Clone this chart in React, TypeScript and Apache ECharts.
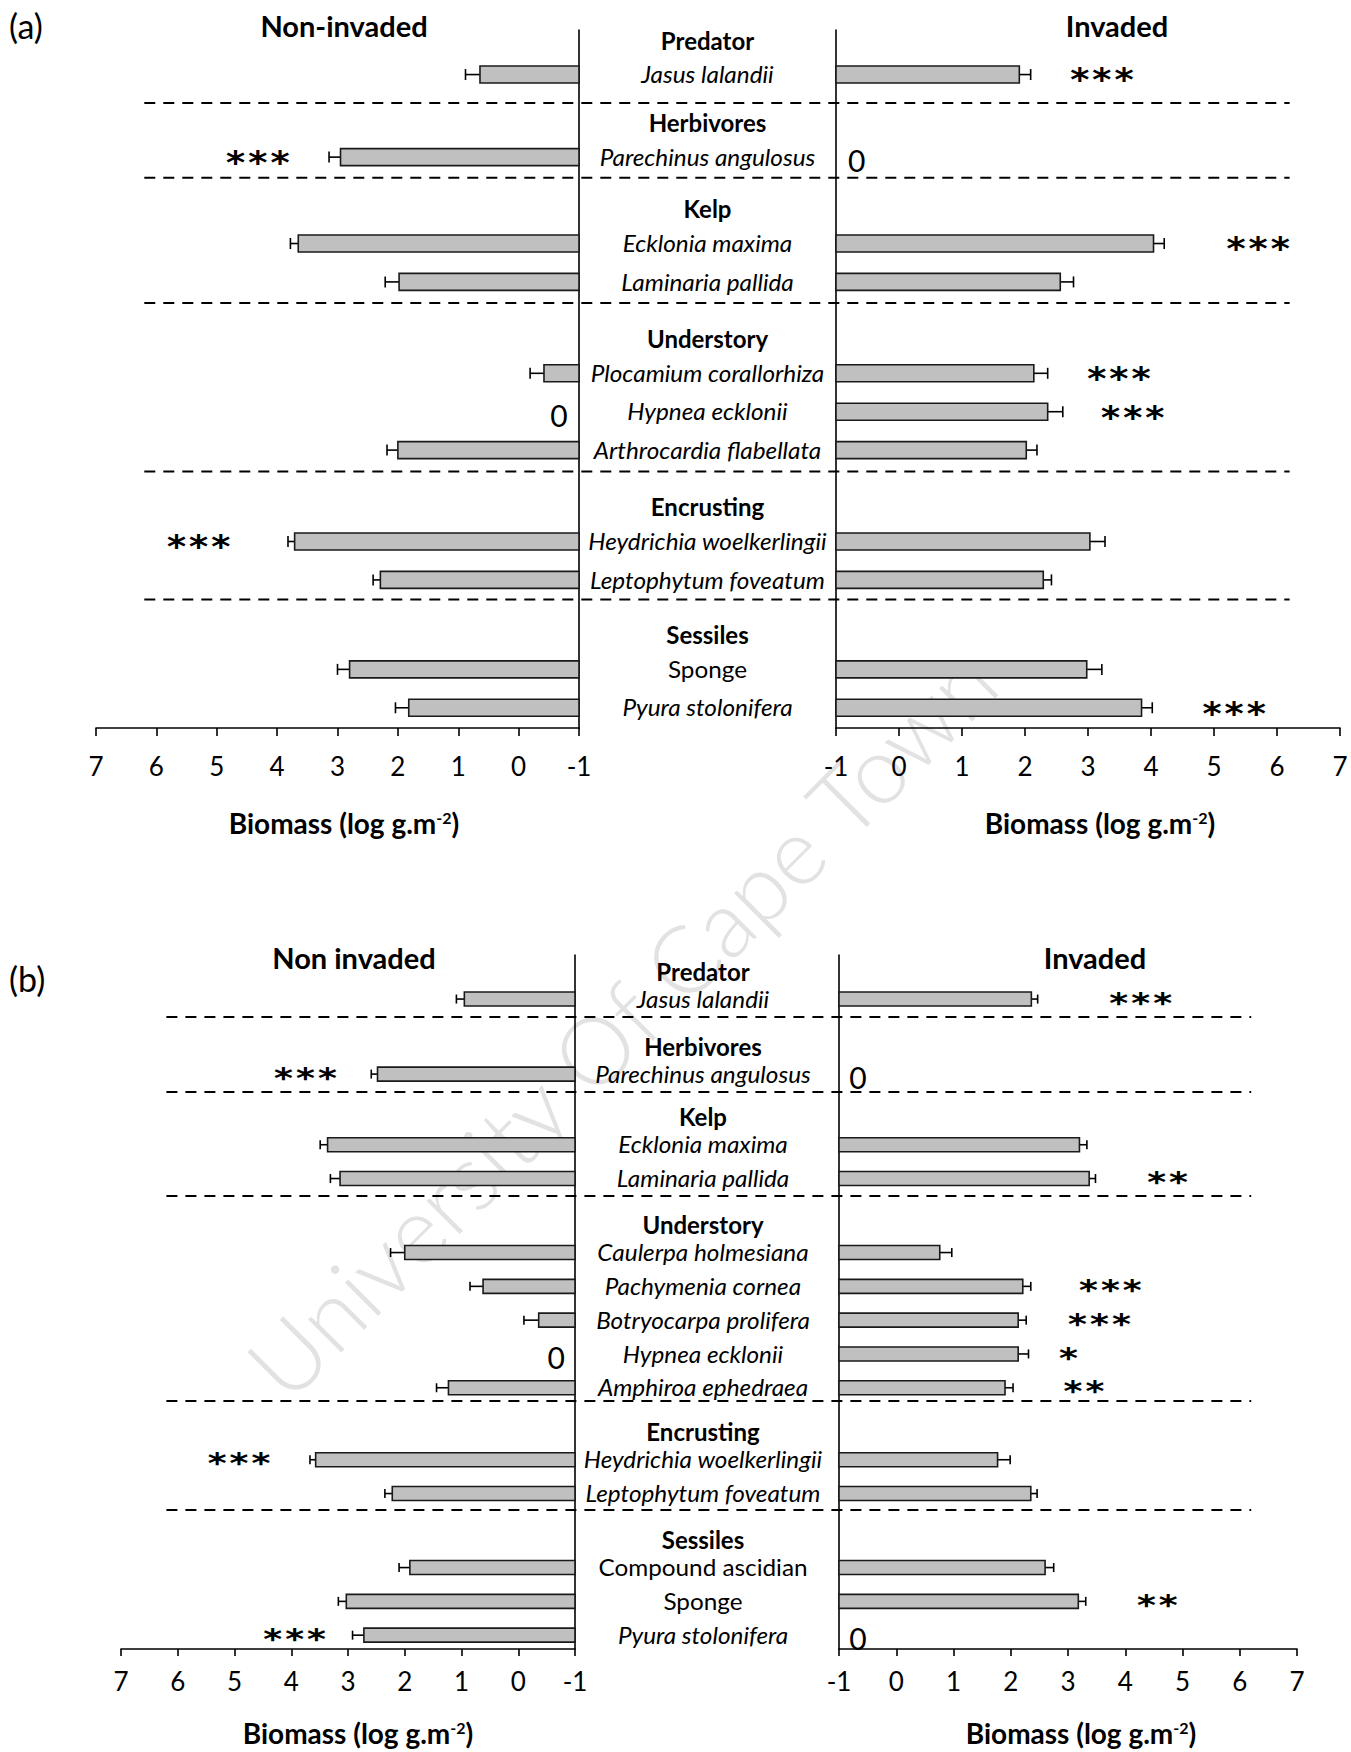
import React, { useEffect, useRef } from "react";
import * as echarts from "echarts";

const FONT = "Lato, 'Open Sans', 'DejaVu Sans', sans-serif";
const STAR_FONT = "'DejaVu Sans Mono', monospace";

// ---------------- Panel (a) data ----------------
const groupsA = ["Predator", "Herbivores", "Kelp", "Understory", "Encrusting", "Sessiles"];
const speciesA = [
  "Jasus lalandii", "Parechinus angulosus", "Ecklonia maxima", "Laminaria pallida",
  "Plocamium corallorhiza", "Hypnea ecklonii", "Arthrocardia flabellata",
  "Heydrichia woelkerlingii", "Leptophytum foveatum", "Sponge", "Pyura stolonifera",
];
const groupOfA = [0, 1, 2, 2, 3, 3, 3, 4, 4, 5, 5];
const italicA = [true, true, true, true, true, true, true, true, true, false, true];
const nonInvadedA = [0.64, 2.95, 3.65, 1.98, -0.42, null, 2.0, 3.71, 2.29, 2.8, 1.82];
const nonInvadedErrA = [0.24, 0.19, 0.13, 0.23, 0.23, null, 0.18, 0.11, 0.12, 0.2, 0.22];
const invadedA = [1.91, null, 4.04, 2.56, 2.14, 2.36, 2.02, 3.03, 2.29, 2.98, 3.85];
const invadedErrA = [0.18, null, 0.17, 0.21, 0.22, 0.24, 0.17, 0.24, 0.13, 0.24, 0.17];
const sigNonInvadedA = ["", "***", "", "", "", "", "", "***", "", "", ""];
const sigNonInvadedAtA = [null, 4.32, null, null, null, null, null, 5.3, null, null, null];
const sigInvadedA = ["***", "", "***", "", "***", "***", "", "", "", "", "***"];
const sigInvadedAtA = [3.22, null, 5.7, null, 3.49, 3.71, null, null, null, null, 5.32];
const headersA = ["Non-invaded", "Invaded"];

// ---------------- Panel (b) data ----------------
const groupsB = ["Predator", "Herbivores", "Kelp", "Understory", "Encrusting", "Sessiles"];
const speciesB = [
  "Jasus lalandii", "Parechinus angulosus", "Ecklonia maxima", "Laminaria pallida",
  "Caulerpa holmesiana", "Pachymenia cornea", "Botryocarpa prolifera", "Hypnea ecklonii",
  "Amphiroa ephedraea", "Heydrichia woelkerlingii", "Leptophytum foveatum",
  "Compound ascidian", "Sponge", "Pyura stolonifera",
];
const groupOfB = [0, 1, 2, 2, 3, 3, 3, 3, 3, 4, 4, 5, 5, 5];
const italicB = [true, true, true, true, true, true, true, true, true, true, true, false, false, true];
const nonInvadedB = [0.95, 2.48, 3.36, 3.14, 2.0, 0.62, -0.36, null, 1.23, 3.57, 2.22, 1.91, 3.03, 2.72];
const nonInvadedErrB = [0.14, 0.11, 0.13, 0.17, 0.25, 0.23, 0.26, null, 0.21, 0.1, 0.13, 0.19, 0.14, 0.2];
const invadedB = [2.36, null, 3.2, 3.37, 0.76, 2.21, 2.13, 2.13, 1.9, 1.77, 2.35, 2.6, 3.18, null];
const invadedErrB = [0.11, null, 0.13, 0.11, 0.21, 0.14, 0.14, 0.18, 0.14, 0.22, 0.11, 0.15, 0.13, null];
const sigNonInvadedB = ["", "***", "", "", "", "", "", "", "", "***", "", "", "", "***"];
const sigNonInvadedAtB = [null, 3.75, null, null, null, null, null, null, null, 4.92, null, null, null, 3.94];
const sigInvadedB = ["***", "", "", "**", "", "***", "***", "*", "**", "", "", "", "**", ""];
const sigInvadedAtB = [4.27, null, null, 4.74, null, 3.74, 3.55, 3.01, 3.28, null, null, null, 4.56, null];
const headersB = ["Non invaded", "Invaded"];

const AXIS_MIN = -1;
const AXIS_MAX = 7;
const AXIS_TITLE_MAIN = "Biomass (log g.m";
const AXIS_TITLE_SUP = "-2";
const AXIS_TITLE_END = ")";
const WATERMARK = "University Of Cape Town";

// ---------------- layout (styles / positions, not data) ----------------
const ZERO_LABEL_AT = -0.67;
const DASH_EXTENT = 6.2;
const LAYOUT = [
  {
    tag: "(a)", tagY: 25, headerY: 25, headerX: [344, 1117], titleY: 823, titleX: [344, 1100],
    top: 30, bottom: 728, left: [96, 579], right: [836, 1340],
    firstRowY: 40, rowPx: 38.4, titleStep: 0.9,
    groupGaps: [1.25, 1.35, 1.48, 1.48, 1.43], dashFracs: [0.59, 0.4, 0.37, 0.377, 0.355],
    barPx: 17, capPx: 11, labelMargin: 25, tickLen: 8, centerShift: 0,
    starSize: 32, starScaleX: 1.15,
  },
  {
    tag: "(b)", tagY: 978, headerY: 957, headerX: [354, 1095], titleY: 1733, titleX: [358, 1081],
    top: 955, bottom: 1649, left: [121, 575], right: [839, 1297],
    firstRowY: 971, rowPx: 33.8, titleStep: 0.83,
    groupGaps: [1.39, 1.26, 1.36, 1.3, 1.36], dashFracs: [0.38, 0.42, 0.38, 0.3, 0.36],
    barPx: 14, capPx: 9, labelMargin: 19, tickLen: 7, centerShift: -4,
    starSize: 28, starScaleX: 1.3,
  },
];

const panels = [
  {
    groups: groupsA, species: speciesA, groupOf: groupOfA, italic: italicA,
    sides: [
      { vals: nonInvadedA, errs: nonInvadedErrA, sig: sigNonInvadedA, sigAt: sigNonInvadedAtA },
      { vals: invadedA, errs: invadedErrA, sig: sigInvadedA, sigAt: sigInvadedAtA },
    ],
    headers: headersA,
  },
  {
    groups: groupsB, species: speciesB, groupOf: groupOfB, italic: italicB,
    sides: [
      { vals: nonInvadedB, errs: nonInvadedErrB, sig: sigNonInvadedB, sigAt: sigNonInvadedAtB },
      { vals: invadedB, errs: invadedErrB, sig: sigInvadedB, sigAt: sigInvadedAtB },
    ],
    headers: headersB,
  },
];

function computeRows(groupOf: number[], L: any) {
  const titlePos: number[] = [];
  const speciesPos: number[] = [];
  const dashPos: number[] = [];
  let p = 0;
  let current = -1;
  let gapIdx = 0;
  groupOf.forEach((g, i) => {
    if (g !== current) {
      if (current >= 0) {
        const gap = L.groupGaps[gapIdx];
        dashPos.push(p + gap * L.dashFracs[gapIdx]);
        p += gap;
        gapIdx++;
      }
      titlePos[g] = p;
      p += L.titleStep;
      current = g;
    } else {
      p += 1;
    }
    speciesPos[i] = p;
  });
  return { titlePos, speciesPos, dashPos };
}

function textStyle(text: string, o: any) {
  const fill = o.fill || "#000";
  return {
    text,
    fill,
    textFill: fill,
    fontSize: o.fontSize,
    fontFamily: o.fontFamily || FONT,
    fontWeight: o.fontWeight || "normal",
    fontStyle: o.fontStyle || "normal",
    align: o.align || "center",
    textAlign: o.align || "center",
    verticalAlign: "middle",
    textVerticalAlign: "middle",
  };
}

function buildOption() {
  const grid: any[] = [];
  const xAxis: any[] = [];
  const yAxis: any[] = [];
  const series: any[] = [];

  panels.forEach((P, pi) => {
    const L = LAYOUT[pi];
    const rows = computeRows(P.groupOf, L);
    [0, 1].forEach((side) => {
      const gi = grid.length;
      const [x0, x1] = side === 0 ? L.left : L.right;
      grid.push({
        left: x0, top: L.top, width: x1 - x0, height: L.bottom - L.top,
        containLabel: false, outerBoundsMode: "none",
      });
      xAxis.push({
        gridIndex: gi, type: "value", min: AXIS_MIN, max: AXIS_MAX, interval: 1,
        inverse: side === 0, position: "bottom",
        axisLine: { show: true, onZero: false, lineStyle: { color: "#000", width: 1.6 } },
        axisTick: { show: true, length: L.tickLen, lineStyle: { color: "#000", width: 1.6 } },
        axisLabel: {
          show: true, color: "#000", fontFamily: FONT, fontSize: 26, margin: L.labelMargin,
          showMinLabel: true, showMaxLabel: true,
        },
        splitLine: { show: false },
      });
      yAxis.push({
        gridIndex: gi, type: "value", inverse: true,
        min: (L.top - L.firstRowY) / L.rowPx,
        max: (L.bottom - L.firstRowY) / L.rowPx,
        position: side === 0 ? "right" : "left",
        axisLine: { show: true, onZero: false, lineStyle: { color: "#000", width: 1.6 } },
        axisTick: { show: false },
        axisLabel: { show: false },
        splitLine: { show: false },
      });

      const S = P.sides[side];
      const barData: any[] = [];
      const zeroData: any[] = [];
      const starData: any[] = [];
      S.vals.forEach((v: any, i: number) => {
        if (v == null) zeroData.push([ZERO_LABEL_AT, rows.speciesPos[i]]);
        else barData.push([v, rows.speciesPos[i], S.errs[i]]);
        if (S.sig[i]) starData.push([S.sigAt[i], rows.speciesPos[i], i]);
      });

      series.push({
        type: "custom", coordinateSystem: "cartesian2d", xAxisIndex: gi, yAxisIndex: gi,
        clip: false, silent: true, encode: { x: 0, y: 1 }, data: barData,
        renderItem: (params: any, api: any) => {
          const v = api.value(0);
          const pos = api.value(1);
          const err = api.value(2);
          const s = api.coord([AXIS_MIN, pos]);
          const e = api.coord([v, pos]);
          const ee = api.coord([v + err, pos]);
          const h = L.barPx;
          return {
            type: "group",
            children: [
              {
                type: "line",
                shape: { x1: e[0], y1: e[1], x2: ee[0], y2: e[1] },
                style: { stroke: "#000", lineWidth: 1.6 },
              },
              {
                type: "line",
                shape: { x1: ee[0], y1: e[1] - L.capPx / 2, x2: ee[0], y2: e[1] + L.capPx / 2 },
                style: { stroke: "#000", lineWidth: 1.6 },
              },
              {
                type: "rect",
                shape: { x: Math.min(s[0], e[0]), y: s[1] - h / 2, width: Math.abs(e[0] - s[0]), height: h },
                style: { fill: "#c0c0c0", stroke: "#1a1a1a", lineWidth: 1.6 },
              },
            ],
          };
        },
      });

      if (zeroData.length) {
        series.push({
          type: "custom", coordinateSystem: "cartesian2d", xAxisIndex: gi, yAxisIndex: gi,
          clip: false, silent: true, encode: { x: 0, y: 1 }, data: zeroData,
          renderItem: (params: any, api: any) => {
            const c = api.coord([api.value(0), api.value(1)]);
            return { type: "text", x: c[0], y: c[1] + 3, style: textStyle("0", { fontSize: 30 }) };
          },
        });
      }
      if (starData.length) {
        series.push({
          type: "custom", coordinateSystem: "cartesian2d", xAxisIndex: gi, yAxisIndex: gi,
          clip: false, silent: true, encode: { x: 0, y: 1 }, data: starData,
          renderItem: (params: any, api: any) => {
            const c = api.coord([api.value(0), api.value(1)]);
            const txt = S.sig[api.value(2)];
            return {
              type: "text", x: c[0], y: c[1] + L.starSize * 0.15, scaleX: L.starScaleX,
              style: textStyle(txt, { fontSize: L.starSize, fontFamily: STAR_FONT, fontWeight: "bold" }),
            };
          },
        });
      }
    });
  });

  return { animation: false, backgroundColor: "#fff", grid, xAxis, yAxis, series };
}

function buildGraphics(chart: any) {
  const g: any[] = [];
  g.push({
    type: "text", x: 620, y: 1022, rotation: Math.PI / 4, z: -10,
    style: textStyle(WATERMARK, { fontSize: 94, fontWeight: 300, fill: "#e2e2e2" }),
  });
  panels.forEach((P, pi) => {
    const L = LAYOUT[pi];
    const rows = computeRows(P.groupOf, L);
    const gl = pi * 2;
    const gr = pi * 2 + 1;
    const centre = (pos: number) => {
      const a = chart.convertToPixel({ gridIndex: gl }, [AXIS_MIN, pos]);
      const b = chart.convertToPixel({ gridIndex: gr }, [AXIS_MIN, pos]);
      return [(a[0] + b[0]) / 2 + L.centerShift, a[1]];
    };
    P.groups.forEach((name: string, k: number) => {
      const [x, y] = centre(rows.titlePos[k]);
      g.push({ type: "text", x, y, style: textStyle(name, { fontSize: 24, fontWeight: "bold" }) });
    });
    P.species.forEach((name: string, i: number) => {
      const [x, y] = centre(rows.speciesPos[i]);
      g.push({
        type: "text", x, y, scaleX: 1.08,
        style: textStyle(name, { fontSize: 22.5, fontStyle: P.italic[i] ? "italic" : "normal" }),
      });
    });
    rows.dashPos.forEach((d: number) => {
      const a = chart.convertToPixel({ gridIndex: gl }, [DASH_EXTENT, d]);
      const b = chart.convertToPixel({ gridIndex: gr }, [DASH_EXTENT, d]);
      g.push({
        type: "line", shape: { x1: a[0], y1: a[1], x2: b[0], y2: b[1] },
        style: { stroke: "#000", lineWidth: 2, lineDash: [11, 8] },
      });
    });
    g.push({ type: "text", x: 9, y: L.tagY, style: textStyle(L.tag, { fontSize: 34, align: "left" }) });
    P.headers.forEach((h: string, k: number) => {
      g.push({ type: "text", x: L.headerX[k], y: L.headerY, style: textStyle(h, { fontSize: 29, fontWeight: "bold" }) });
    });
    [0, 1].forEach((k) => {
      g.push({
        type: "text", x: L.titleX[k], y: L.titleY,
        style: {
          text: `{t|${AXIS_TITLE_MAIN}}{s|${AXIS_TITLE_SUP}}{t|${AXIS_TITLE_END}}`,
          align: "center", textAlign: "center",
          verticalAlign: "middle", textVerticalAlign: "middle",
          rich: {
            t: { fontSize: 28, fontWeight: "bold", fontFamily: FONT, fill: "#000", textFill: "#000", lineHeight: 28 },
            s: { fontSize: 16, fontWeight: "bold", fontFamily: FONT, fill: "#000", textFill: "#000", verticalAlign: "top", lineHeight: 16 },
          },
        },
      });
    });
  });
  return g;
}

export default function App() {
  const ref = useRef<HTMLDivElement>(null);
  useEffect(() => {
    const chart = echarts.init(ref.current as HTMLDivElement, null, { renderer: "svg" });
    chart.setOption(buildOption() as any);
    chart.setOption({ graphic: buildGraphics(chart) } as any);
    return () => chart.dispose();
  }, []);
  return (
    <div
      ref={ref}
      style={{ position: "absolute", left: 0, top: 0, width: 1351, height: 1752, background: "#fff" }}
    />
  );
}
